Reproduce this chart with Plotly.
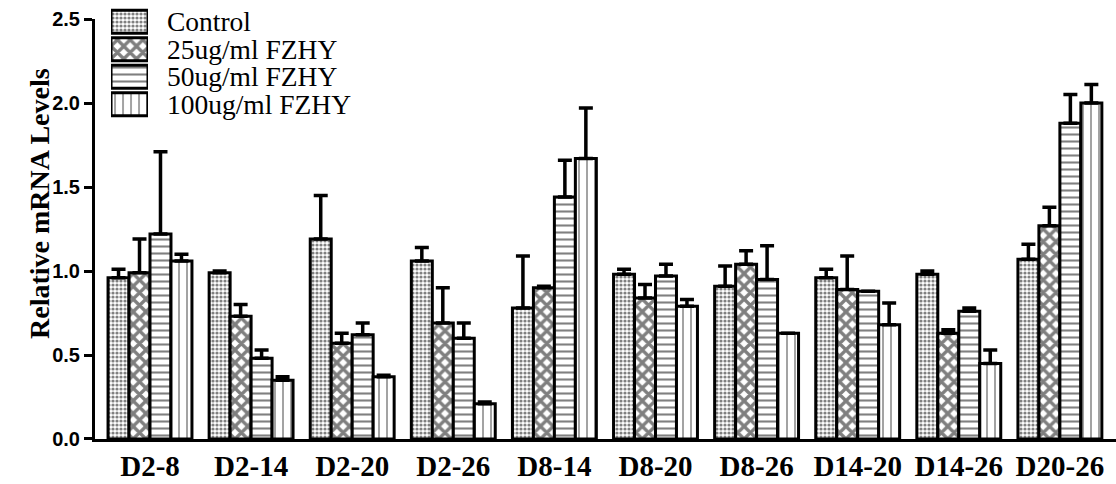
import plotly.graph_objects as go

categories = ["D2-8", "D2-14", "D2-20", "D2-26", "D8-14", "D8-20", "D8-26", "D14-20", "D14-26", "D20-26"]
series_names = ["Control", "25ug/ml FZHY", "50ug/ml FZHY", "100ug/ml FZHY"]

control = [0.96, 0.99, 1.19, 1.06, 0.78, 0.98, 0.91, 0.96, 0.98, 1.07]
control_top = [1.01, 1.00, 1.45, 1.14, 1.09, 1.01, 1.03, 1.01, 1.00, 1.16]
fzhy25 = [0.99, 0.73, 0.57, 0.69, 0.90, 0.84, 1.04, 0.89, 0.63, 1.27]
fzhy25_top = [1.19, 0.80, 0.63, 0.90, 0.91, 0.92, 1.12, 1.09, 0.65, 1.38]
fzhy50 = [1.22, 0.48, 0.62, 0.60, 1.44, 0.97, 0.95, 0.88, 0.76, 1.88]
fzhy50_top = [1.71, 0.53, 0.69, 0.69, 1.66, 1.04, 1.15, 0.88, 0.78, 2.05]
fzhy100 = [1.06, 0.35, 0.37, 0.21, 1.67, 0.79, 0.63, 0.68, 0.45, 2.00]
fzhy100_top = [1.10, 0.37, 0.38, 0.22, 1.97, 0.83, 0.63, 0.81, 0.53, 2.11]

y_ticks = [0.0, 0.5, 1.0, 1.5, 2.0, 2.5]
y_ticklabels = ["0.0", "0.5", "1.0", "1.5", "2.0", "2.5"]
y_title = "Relative mRNA Levels"

values = [control, fzhy25, fzhy50, fzhy100]
tops = [control_top, fzhy25_top, fzhy50_top, fzhy100_top]
patterns = [
    dict(shape=".", size=4, solidity=0.5, fgcolor="black", bgcolor="white"),
    dict(shape="x", size=9, solidity=0.6, fgcolor="black", bgcolor="white"),
    dict(shape="-", size=7, solidity=0.3, fgcolor="black", bgcolor="white"),
    dict(shape="|", size=8, solidity=0.18, fgcolor="black", bgcolor="white"),
]

fig = go.Figure()
for name, vals, tp, pat in zip(series_names, values, tops, patterns):
    fig.add_trace(go.Bar(
        name=name, x=categories, y=vals, showlegend=False,
        marker=dict(color="white", pattern=pat, line=dict(color="black", width=3)),
        error_y=dict(type="data", symmetric=False,
                     array=[max(t - v, 0) for t, v in zip(tp, vals)],
                     arrayminus=[0] * len(vals),
                     color="black", thickness=3.5, width=7),
    ))
    # legend key, drawn on a small helper axis
    fig.add_trace(go.Bar(
        name=name, x=[1], y=[name], orientation="h", showlegend=False,
        xaxis="x2", yaxis="y2", hoverinfo="skip",
        marker=dict(color="white", pattern=pat, line=dict(color="black", width=3)),
    ))

fig.update_layout(
    width=1116, height=484,
    margin=dict(l=95, r=0, t=5, b=45),
    paper_bgcolor="white", plot_bgcolor="white",
    barmode="group", bargap=0.17, bargroupgap=0.0,
    font=dict(color="black"),
    xaxis=dict(
        range=[-0.544, 9.555], showline=True, linecolor="black", linewidth=3,
        ticks="", showgrid=False, zeroline=False, automargin=False,
        ticklabelstandoff=-1,
        tickfont=dict(family="Liberation Serif", size=29, color="black", weight="bold"),
    ),
    yaxis=dict(
        domain=[0, 0.9677],
        range=[0, 2.5], tickvals=y_ticks, ticktext=y_ticklabels,
        showline=True, linecolor="black", linewidth=3,
        ticks="outside", ticklen=8, tickwidth=3, tickcolor="black",
        showgrid=False, zeroline=False, automargin=False,
        tickfont=dict(family="Liberation Sans", size=20, color="black", weight="bold"),
    ),
    xaxis2=dict(domain=[0.0157, 0.0519], range=[0, 1], anchor="y2",
                visible=False, fixedrange=True),
    yaxis2=dict(domain=[0.7396, 0.9931], anchor="x2", side="right",
                type="category", categoryorder="array",
                categoryarray=series_names[::-1],
                tickmode="array", tickvals=series_names, ticktext=series_names,
                showline=False, showgrid=False, zeroline=False, ticks="",
                ticklabelstandoff=18, automargin=False, fixedrange=True,
                tickfont=dict(family="Liberation Serif", size=27.5, color="black")),
    annotations=[dict(
        text=y_title, textangle=-90, xref="paper", yref="paper",
        x=-0.0539, y=0.5438, xanchor="center", yanchor="middle", showarrow=False,
        font=dict(family="Liberation Serif", size=28, color="black", weight="bold"),
    )],
)

fig.write_html("out.html", config={"displayModeBar": False},
               post_script="document.body.style.margin='0px';document.body.style.overflow='hidden';")
